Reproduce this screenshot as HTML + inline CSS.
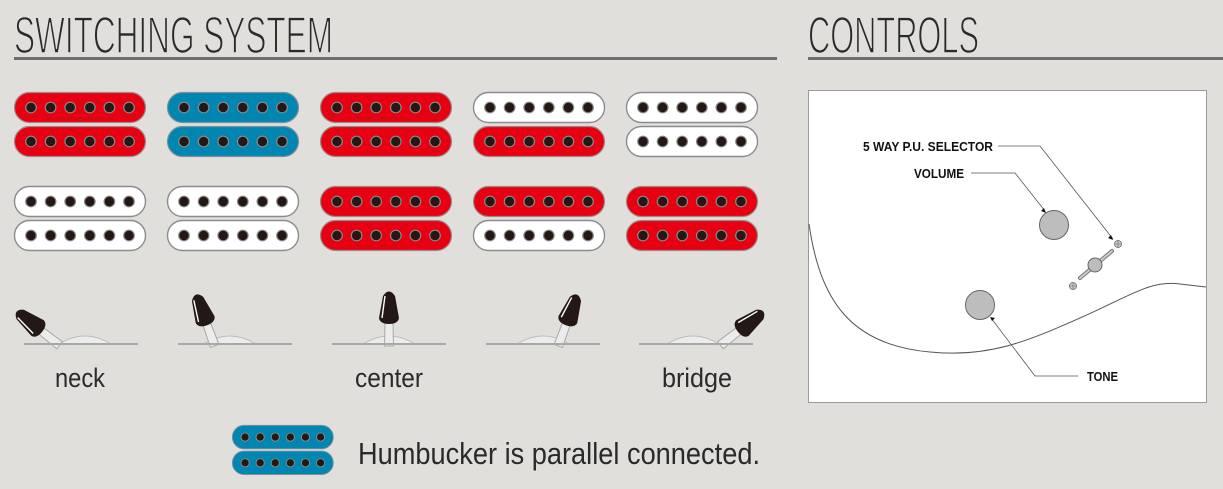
<!DOCTYPE html>
<html><head><meta charset="utf-8"><style>
html,body{margin:0;padding:0;background:#e0dfdc;}
svg{display:block;}
</style></head><body>
<svg width="1223" height="489" viewBox="0 0 1223 489" xmlns="http://www.w3.org/2000/svg" font-family="Liberation Sans, sans-serif">
<defs>
  <g id="dots">
    <g fill="#231815" stroke="#8a8a8a" stroke-width="1.2">
      <circle cx="17" cy="0" r="5.3"/><circle cx="36.6" cy="0" r="5.3"/><circle cx="56.2" cy="0" r="5.3"/>
      <circle cx="75.8" cy="0" r="5.3"/><circle cx="95.4" cy="0" r="5.3"/><circle cx="115" cy="0" r="5.3"/>
    </g>
  </g>
  <g id="cr"><rect x="0.5" y="0.5" width="131" height="30" rx="15" fill="#e60012" stroke="#9a8a88" stroke-width="1.2"/><use href="#dots" y="15.5"/></g>
  <g id="cb"><rect x="0.5" y="0.5" width="131" height="30" rx="15" fill="#0086b0" stroke="#7f9098" stroke-width="1.2"/><use href="#dots" y="15.5"/></g>
  <g id="cw"><rect x="0.5" y="0.5" width="131" height="30" rx="15" fill="#ffffff" stroke="#8c8c8c" stroke-width="1.4"/><use href="#dots" y="15.5"/></g>
  <g id="knob">
    <path d="M-4.5,2 L-4,-21 L4,-21 L4.5,2 Z" fill="#ececec" stroke="#a8a8a8" stroke-width="1"/>
    <path d="M-10,-26 Q-9,-20 0,-20 Q9,-20 10,-26 L6,-48 Q0,-57 -6,-48 Z" fill="#231815"/>
    <path d="M-7,-26 L-4,-48" stroke="#fff" stroke-width="1.4" fill="none"/>
  </g>
  <path id="mound" d="M-26,0 Q0,-16 26,0 Z" fill="#ececec" stroke="#bcbcbc" stroke-width="1"/>
</defs>

<!-- headers -->
<text x="14" y="53" font-size="52" fill="#2a2a2a" stroke="#e0dfdc" stroke-width="1.6" textLength="319" lengthAdjust="spacingAndGlyphs">SWITCHING SYSTEM</text>
<rect x="14" y="57" width="763" height="3" fill="#6e6e6e"/>
<text x="808" y="53" font-size="52" fill="#2a2a2a" stroke="#e0dfdc" stroke-width="1.6" textLength="171" lengthAdjust="spacingAndGlyphs">CONTROLS</text>
<rect x="808" y="57" width="415" height="3" fill="#6e6e6e"/>

<!-- pickups row 1 -->
<use href="#cr" x="14" y="92"/><use href="#cr" x="14" y="126"/>
<use href="#cb" x="167" y="92"/><use href="#cb" x="167" y="126"/>
<use href="#cr" x="320" y="92"/><use href="#cr" x="320" y="126"/>
<use href="#cw" x="473" y="92"/><use href="#cr" x="473" y="126"/>
<use href="#cw" x="626" y="92"/><use href="#cw" x="626" y="126"/>
<!-- row 2 -->
<use href="#cw" x="14" y="186"/><use href="#cw" x="14" y="220"/>
<use href="#cw" x="167" y="186"/><use href="#cw" x="167" y="220"/>
<use href="#cr" x="320" y="186"/><use href="#cr" x="320" y="220"/>
<use href="#cr" x="473" y="186"/><use href="#cw" x="473" y="220"/>
<use href="#cr" x="626" y="186"/><use href="#cr" x="626" y="220"/>

<!-- switches -->
<g>
  <use href="#mound" x="85" y="344"/>
  <g transform="translate(58,344) rotate(-52)"><use href="#knob"/></g>
  <rect x="24" y="343" width="114" height="2" fill="#a8a8a8"/>

  <use href="#mound" x="230" y="344"/>
  <g transform="translate(214,344) rotate(-20)"><use href="#knob"/></g>
  <rect x="178" y="343" width="114" height="2" fill="#a8a8a8"/>

  <use href="#mound" x="389" y="344"/>
  <g transform="translate(389,344)"><use href="#knob"/></g>
  <rect x="332" y="343" width="114" height="2" fill="#a8a8a8"/>

  <use href="#mound" x="543" y="344"/>
  <g transform="translate(559,344) rotate(20)"><use href="#knob"/></g>
  <rect x="486" y="343" width="114" height="2" fill="#a8a8a8"/>

  <use href="#mound" x="693" y="344"/>
  <g transform="translate(722,344) rotate(52)"><use href="#knob"/></g>
  <rect x="639" y="343" width="114" height="2" fill="#a8a8a8"/>
</g>
<text x="80" y="387" font-size="27" fill="#2a2a2a" text-anchor="middle" textLength="50" lengthAdjust="spacingAndGlyphs">neck</text>
<text x="389" y="387" font-size="27" fill="#2a2a2a" text-anchor="middle" textLength="68" lengthAdjust="spacingAndGlyphs">center</text>
<text x="697" y="387" font-size="27" fill="#2a2a2a" text-anchor="middle" textLength="70" lengthAdjust="spacingAndGlyphs">bridge</text>

<!-- legend -->
<g transform="translate(232,425) scale(0.77,0.78)"><use href="#cb"/><use href="#cb" y="33"/></g>
<text x="358" y="464" font-size="31" fill="#2a2a2a" textLength="402" lengthAdjust="spacingAndGlyphs">Humbucker is parallel connected.</text>

<!-- controls -->
<rect x="808.5" y="90.5" width="398" height="312" fill="#fff" stroke="#9a9a9a" stroke-width="1"/>
<path d="M809,224 C820,300 850,345 930,352 C990,358 1030,340 1080,318 C1130,296 1150,280 1180,284 L1206,287" fill="none" stroke="#555" stroke-width="1"/>
<circle cx="1054" cy="225" r="14.5" fill="#bdbdbd" stroke="#666" stroke-width="1"/>
<circle cx="980" cy="305" r="14.5" fill="#bdbdbd" stroke="#666" stroke-width="1"/>
<line x1="1080" y1="278" x2="1112" y2="251" stroke="#777" stroke-width="4" stroke-linecap="round"/>
<line x1="1080" y1="278" x2="1112" y2="251" stroke="#ccc" stroke-width="2" stroke-linecap="round"/>
<circle cx="1095" cy="265" r="7" fill="#bdbdbd" stroke="#666" stroke-width="1"/>
<g fill="#ccc" stroke="#666" stroke-width="0.8">
  <circle cx="1118" cy="244" r="3.5"/><circle cx="1073" cy="286" r="3.5"/>
</g>
<g stroke="#666" stroke-width="0.6"><path d="M1115,244h6M1118,241v6M1070,286h6M1073,283v6"/></g>
<g font-size="13" font-weight="bold" fill="#111">
  <text x="993" y="151" text-anchor="end" textLength="130" lengthAdjust="spacingAndGlyphs">5 WAY P.U. SELECTOR</text>
  <text x="964" y="178" text-anchor="end" textLength="50" lengthAdjust="spacingAndGlyphs">VOLUME</text>
  <text x="1087" y="381" textLength="31" lengthAdjust="spacingAndGlyphs">TONE</text>
</g>
<g fill="none" stroke="#555" stroke-width="0.8">
  <path d="M998,146 L1040,146 L1113,239"/>
  <path d="M971,173 L1015,173 L1045,211"/>
  <path d="M1078,376 L1035,376 L991,318"/>
</g>
<g fill="#111">
  <path d="M1113,240 l-5,-2 l3,-3 z"/>
  <path d="M1046,213 l-5,-2 l3,-3 z"/>
  <path d="M990,317 l5,1 l-3,3 z"/>
</g>
</svg>
</body></html>
